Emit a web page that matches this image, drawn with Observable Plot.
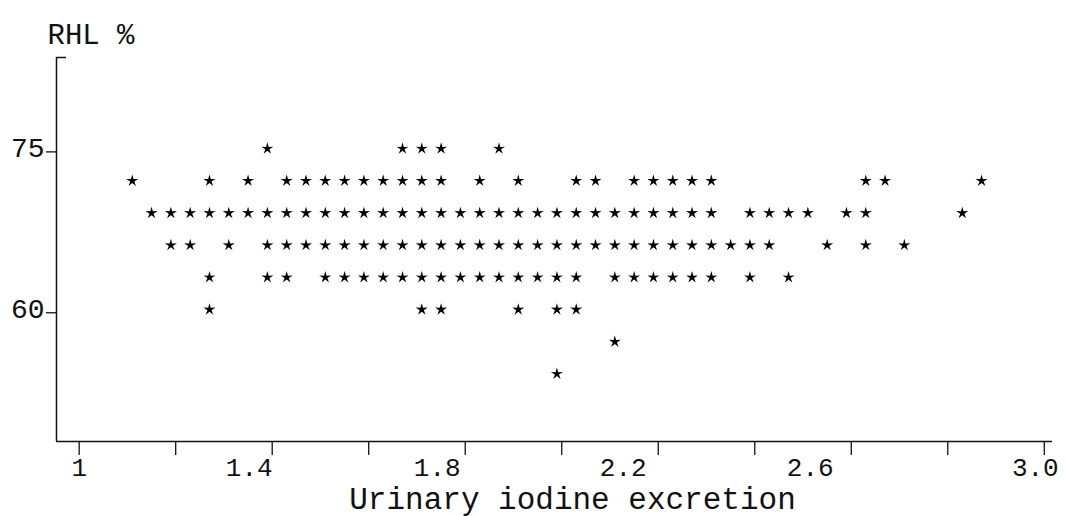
<!DOCTYPE html>
<html>
<head>
<meta charset="utf-8">
<script src="https://cdn.jsdelivr.net/npm/d3@7"></script>
<script src="https://cdn.jsdelivr.net/npm/@observablehq/plot@0.6"></script>
<style>
  html, body { margin: 0; padding: 0; background: #fff; }
</style>
</head>
<body>
<div id="chart"></div>
<script>
// RHL % (y) against urinary iodine excretion (x); each RHL level lists the excretion values plotted on it
const rhlLevels = [75.3, 72.3, 69.3, 66.3, 63.3, 60.3, 57.3, 54.3];

const excretionAt753 = [1.39, 1.67, 1.71, 1.75, 1.87];
const excretionAt723 = [1.11, 1.27, 1.35, 1.43, 1.47, 1.51, 1.55, 1.59, 1.63, 1.67, 1.71, 1.75,
  1.83, 1.91, 2.03, 2.07, 2.15, 2.19, 2.23, 2.27, 2.31, 2.63, 2.67, 2.87];
const excretionAt693 = [1.15, 1.19, 1.23, 1.27, 1.31, 1.35, 1.39, 1.43, 1.47, 1.51, 1.55, 1.59,
  1.63, 1.67, 1.71, 1.75, 1.79, 1.83, 1.87, 1.91, 1.95, 1.99, 2.03, 2.07, 2.11, 2.15, 2.19, 2.23,
  2.27, 2.31, 2.39, 2.43, 2.47, 2.51, 2.59, 2.63, 2.83];
const excretionAt663 = [1.19, 1.23, 1.31, 1.39, 1.43, 1.47, 1.51, 1.55, 1.59, 1.63, 1.67, 1.71,
  1.75, 1.79, 1.83, 1.87, 1.91, 1.95, 1.99, 2.03, 2.07, 2.11, 2.15, 2.19, 2.23, 2.27, 2.31, 2.35,
  2.39, 2.43, 2.55, 2.63, 2.71];
const excretionAt633 = [1.27, 1.39, 1.43, 1.51, 1.55, 1.59, 1.63, 1.67, 1.71, 1.75, 1.79, 1.83,
  1.87, 1.91, 1.95, 1.99, 2.03, 2.11, 2.15, 2.19, 2.23, 2.27, 2.31, 2.39, 2.47];
const excretionAt603 = [1.27, 1.71, 1.75, 1.91, 1.99, 2.03];
const excretionAt573 = [2.11];
const excretionAt543 = [1.99];

const excretionByLevel = [excretionAt753, excretionAt723, excretionAt693, excretionAt663,
  excretionAt633, excretionAt603, excretionAt573, excretionAt543];

// axis ticks and labels
const xTicks = [1.0, 1.2, 1.4, 1.6, 1.8, 2.0, 2.2, 2.4, 2.6, 2.8, 3.0];
const xLabelValues = [1.0, 1.4, 1.8, 2.2, 2.6, 3.0];
const xLabelTexts = ["1", "1.4", "1.8", "2.2", "2.6", "3.0"];
const yTicks = [60, 75];
const yTitle = "RHL %";
const xTitle = "Urinary iodine excretion";

// typewritten tick labels sit a little off their ticks
const xLabelNudge = [0, -23, -28, -35, -41, -9];

const xDomain = [0.953, 3.017];
const yDomain = [48.0, 83.8];

const points = rhlLevels.flatMap((rhl, i) =>
  excretionByLevel[i].map((excretion) => ({excretion, rhl})));

// slim five-pointed star
const slimStar = {
  draw(context, size) {
    const R = Math.sqrt(size * 0.89);
    const r = R * 0.34;
    for (let i = 0; i < 10; ++i) {
      const a = (Math.PI * i) / 5 - Math.PI / 2;
      const d = i % 2 ? r : R;
      const px = d * Math.cos(a), py = d * Math.sin(a);
      if (i === 0) context.moveTo(px, py); else context.lineTo(px, py);
    }
    context.closePath();
  }
};

const font = "'Liberation Mono', 'DejaVu Sans Mono', monospace";
const W = 1067, H = 516;
const mL = 56, mR = 15, mT = 57, mB = 75;

const chart = Plot.plot({
  width: W,
  height: H,
  marginLeft: mL,
  marginRight: mR,
  marginTop: mT,
  marginBottom: mB,
  x: {domain: xDomain, axis: null},
  y: {domain: yDomain, axis: null},
  style: {fontFamily: font, background: "#fff", color: "#111", overflow: "visible"},
  marks: [
    // frame: left and bottom axis lines plus the short stub at the top
    Plot.ruleX([xDomain[0]], {stroke: "#111", strokeWidth: 1.5}),
    Plot.ruleY([yDomain[0]], {stroke: "#111", strokeWidth: 1.5}),
    Plot.ruleY([yDomain[1]], {stroke: "#111", strokeWidth: 1.5, insetRight: W - mL - mR - 10}),

    // x ticks
    Plot.axisX({ticks: xTicks, tickSize: 14, tickFormat: () => "", label: null,
      stroke: "#111", strokeWidth: 1.3}),
    ...xLabelValues.map((v, i) =>
      Plot.text([xLabelTexts[i]], {x: [v], frameAnchor: "bottom", dy: 34, dx: xLabelNudge[i],
        fontSize: 26, fill: "#111", textAnchor: "middle"})),

    // y ticks
    Plot.axisY({ticks: yTicks, tickSize: 10, tickFormat: () => "", label: null,
      stroke: "#111", strokeWidth: 1.3}),
    Plot.text(yTicks, {y: (d) => d, text: (d) => String(d), frameAnchor: "left",
      textAnchor: "end", dx: -12, dy: -4, fontSize: 28, fill: "#111"}),

    // titles
    Plot.text([yTitle], {frameAnchor: "top-left", textAnchor: "start", dx: -9, dy: -34,
      fontSize: 29, fill: "#111"}),
    Plot.text([xTitle], {frameAnchor: "bottom", textAnchor: "middle", dx: 18, dy: 67,
      fontSize: 31, fill: "#111"}),

    // observations
    Plot.dot(points, {x: "excretion", y: "rhl", symbol: slimStar, r: 3.8, fill: "#000", stroke: "none"})
  ]
});

document.getElementById("chart").appendChild(chart);
</script>
</body>
</html>
